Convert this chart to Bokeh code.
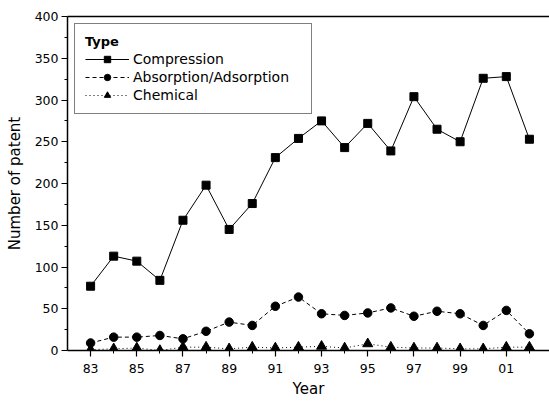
from bokeh.plotting import figure
from bokeh.models import Range1d, LinearAxis, FixedTicker, Legend, LegendItem
from bokeh.embed import file_html
from bokeh.resources import INLINE

# ---- data ----
years = [83, 84, 85, 86, 87, 88, 89, 90, 91, 92, 93, 94, 95, 96, 97, 98, 99, 100, 101, 102]
compression = [77, 113, 107, 84, 156, 198, 145, 176, 231, 254, 275, 243, 272, 239, 304, 265, 250, 326, 328, 253]
absorption = [9, 16, 16, 18, 14, 23, 34, 30, 53, 64, 44, 42, 45, 51, 41, 47, 44, 30, 48, 20]
chemical = [1, 2, 3, 0, 4, 4, 2, 4, 3, 4, 5, 3, 8, 4, 3, 3, 2, 2, 4, 4]

x_ticks = [83, 85, 87, 89, 91, 93, 95, 97, 99, 101]
x_tick_labels = ["83", "85", "87", "89", "91", "93", "95", "97", "99", "01"]
x_minor = [84, 86, 88, 90, 92, 94, 96, 98, 100, 102]
y_ticks = [0, 50, 100, 150, 200, 250, 300, 350, 400]
y_minor = [25, 75, 125, 175, 225, 275, 325, 375]

FONT = "DejaVu Sans"

p = figure(width=549, height=401, output_backend="svg", toolbar_location=None,
           x_range=Range1d(82.0, 102.87), y_range=Range1d(0, 400),
           min_border_left=67, min_border_right=0, min_border_top=16, min_border_bottom=51)
p.outline_line_color = None
p.grid.visible = False
p.background_fill_color = "white"
p.border_fill_color = "white"

# x axis
xa = p.xaxis[0]
xa.ticker = FixedTicker(ticks=x_ticks, minor_ticks=x_minor)
xa.major_label_overrides = {t: l for t, l in zip(x_ticks, x_tick_labels)}
xa.axis_label = "Year"
# y axis
ya = p.yaxis[0]
ya.ticker = FixedTicker(ticks=y_ticks, minor_ticks=y_minor)
ya.axis_label = "Number of patent"

for ax in (xa, ya):
    ax.axis_line_width = 1.5
    ax.axis_line_color = "black"
    ax.major_tick_line_color = "black"
    ax.minor_tick_line_color = "black"
    ax.major_tick_line_width = 1.2
    ax.major_tick_in = 0
    ax.minor_tick_in = 0
    ax.major_tick_out = 6
    ax.minor_tick_out = 3
    ax.major_label_text_font = FONT
    ax.major_label_text_font_size = "12.5px"
    ax.major_label_text_color = "black"
    ax.axis_label_text_font = FONT
    ax.axis_label_text_font_size = "15px"
    ax.axis_label_text_font_style = "normal"
    ax.axis_label_text_color = "black"

xa.major_label_standoff = 7
xa.axis_label_standoff = 4
ya.major_label_standoff = 3
ya.axis_label_standoff = 8

# top frame line
top = LinearAxis(major_tick_line_color=None, minor_tick_line_color=None,
                 major_label_text_font_size="0px", axis_line_width=1.5,
                 axis_line_color="black")
top.ticker = FixedTicker(ticks=[])
p.add_layout(top, "above")

# series
l1 = p.line(years, compression, line_color="black", line_width=1)
m1 = p.scatter(years, compression, marker="square", size=8, fill_color="black", line_color="black")
l2 = p.line(years, absorption, line_color="black", line_width=1, line_dash="4 3")
m2 = p.scatter(years, absorption, marker="circle", size=8.5, fill_color="black", line_color="black")
l3 = p.line(years, chemical, line_color="black", line_width=1, line_dash="1 3")
m3 = p.scatter(years, chemical, marker="triangle", size=10, fill_color="black", line_color="black")

legend = Legend(items=[
    LegendItem(label="Compression", renderers=[l1, m1]),
    LegendItem(label="Absorption/Adsorption", renderers=[l2, m2]),
    LegendItem(label="Chemical", renderers=[l3, m3]),
], location="top_left")
legend.title = "Type"
legend.title_text_font = FONT
legend.title_text_font_style = "bold"
legend.title_text_font_size = "13px"
legend.title_text_color = "black"
legend.title_standoff = 2
legend.label_text_font = FONT
legend.label_text_font_size = "14px"
legend.label_text_color = "black"
legend.border_line_color = "black"
legend.border_line_width = 1
legend.background_fill_alpha = 1
legend.margin = 7
legend.padding = 10
legend.spacing = 2
legend.glyph_width = 44
legend.glyph_height = 16
legend.label_height = 16
legend.label_width = 168
legend.label_standoff = 4
p.add_layout(legend)

open("out.html", "w").write(file_html(p, INLINE))
